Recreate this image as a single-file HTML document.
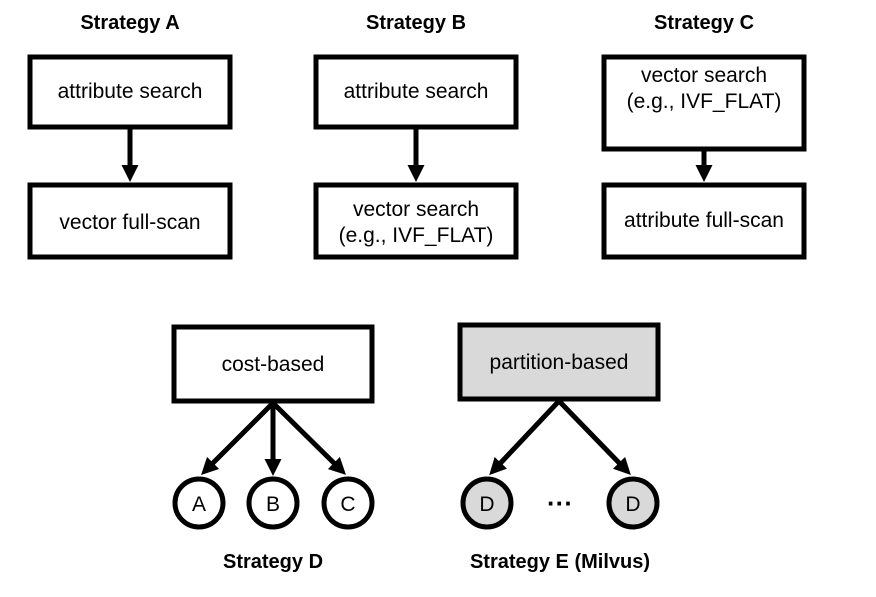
<!DOCTYPE html>
<html><head><style>body{margin:0;background:#fff}</style></head><body>
<svg width="876" height="592" viewBox="0 0 876 592" xmlns="http://www.w3.org/2000/svg" font-family="Liberation Sans, Arial, sans-serif">
<defs><marker id="ah" markerWidth="3.4" markerHeight="3.4" refX="2" refY="1.7" orient="auto" markerUnits="strokeWidth"><path d="M0,0 L3.4,1.7 L0,3.4 z" fill="#000"/></marker></defs>
<g font-weight="bold" font-size="20" text-anchor="middle" fill="#000">
<text x="130" y="29">Strategy A</text>
<text x="416" y="29">Strategy B</text>
<text x="704" y="29">Strategy C</text>
<text x="273" y="568">Strategy D</text>
<text x="560" y="568">Strategy E (Milvus)</text>
</g>
<g fill="#fff" stroke="#000" stroke-width="5">
<rect x="30" y="57" width="200" height="70"/>
<rect x="30" y="185" width="200" height="72"/>
<rect x="316" y="57" width="200" height="70"/>
<rect x="316" y="185" width="200" height="72"/>
<rect x="604" y="57" width="200" height="92"/>
<rect x="604" y="185" width="200" height="72"/>
<rect x="174" y="327" width="198" height="74"/>
<rect x="460" y="325" width="198" height="74" fill="#d9d9d9"/>
<circle cx="199" cy="503" r="24"/>
<circle cx="273" cy="503" r="24"/>
<circle cx="348" cy="503" r="24"/>
<circle cx="487" cy="503" r="24" fill="#d9d9d9"/>
<circle cx="633" cy="503" r="24" fill="#d9d9d9"/>
</g>
<g stroke="#000" stroke-width="5" marker-end="url(#ah)">
<line x1="130" y1="128" x2="130" y2="175"/>
<line x1="416" y1="128" x2="416" y2="175"/>
<line x1="704" y1="150" x2="704" y2="175"/>
<line x1="273" y1="403" x2="206" y2="470"/>
<line x1="273" y1="403" x2="273" y2="469"/>
<line x1="273" y1="403" x2="341" y2="470"/>
<line x1="559" y1="401" x2="494" y2="470"/>
<line x1="559" y1="401" x2="626" y2="470"/>
</g>
<g font-size="21" text-anchor="middle" fill="#000">
<text x="130" y="98">attribute search</text>
<text x="130" y="229">vector full-scan</text>
<text x="416" y="98">attribute search</text>
<text x="416" y="216">vector search</text>
<text x="416" y="242">(e.g., IVF_FLAT)</text>
<text x="704" y="82">vector search</text>
<text x="704" y="108">(e.g., IVF_FLAT)</text>
<text x="704" y="227">attribute full-scan</text>
<text x="273" y="371">cost-based</text>
<text x="559" y="369">partition-based</text>
<text x="199" y="511">A</text>
<text x="273" y="511">B</text>
<text x="348" y="511">C</text>
<text x="487" y="511">D</text>
<text x="633" y="511">D</text>
<text x="560" y="512" font-size="26" font-weight="bold">···</text>
</g>
</svg>
</body></html>
